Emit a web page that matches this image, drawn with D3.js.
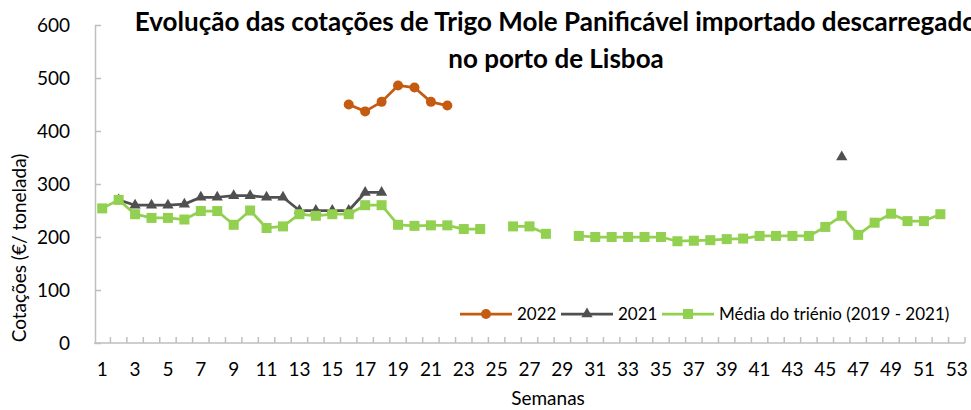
<!DOCTYPE html>
<html>
<head>
<meta charset="utf-8">
<script src="https://cdn.jsdelivr.net/npm/d3@7/dist/d3.min.js"></script>
<style>
  body { margin: 0; background: #fff; }
  svg text { font-family: Lato, "Open Sans", sans-serif; fill: #000; }
</style>
</head>
<body>
<div id="chart"></div>
<script>
// Weekly quotations, €/tonne (null = no quotation that week)
const weeks = d3.range(1, 54);

const series2022 = [
  null, null, null, null, null, null, null, null, null, null,
  null, null, null, null, null, 450, 437, 455, 486, 482,
  455, 448, null, null, null, null, null, null, null, null,
  null, null, null, null, null, null, null, null, null, null,
  null, null, null, null, null, null, null, null, null, null,
  null, null, null
];

const series2021 = [
  null, 270, 260, 260, 260, 262, 275, 275, 278, 278,
  275, 275, 250, 250, 250, 250, 284, 284, null, null,
  null, null, null, null, null, null, null, null, null, null,
  null, null, null, null, null, null, null, null, null, null,
  null, null, null, null, null, 351, null, null, null, null,
  null, null, null
];

const seriesMedia = [
  254, 270, 243, 236, 236, 233, 249, 249, 223, 250,
  217, 220, 243, 240, 243, 243, 260, 260, 223, 221,
  222, 222, 215, 215, null, 220, 220, 206, null, 202,
  200, 200, 200, 200, 200, 192, 193, 194, 196, 197,
  202, 202, 202, 202, 219, 240, 204, 227, 244, 230,
  230, 243, null
];

const yTicks = [0, 100, 200, 300, 400, 500, 600];
const xTickLabels = weeks.filter(w => w % 2 === 1);

const seriesList = [
  { label: '2022', values: series2022, color: '#C55A11', marker: 'circle' },
  { label: '2021', values: series2021, color: '#505050', marker: 'triangle' },
  { label: 'Média do triénio (2019 - 2021)', values: seriesMedia, color: '#92D050', marker: 'square' }
];

const width = 971, height = 410;
const plot = { left: 94, right: 965, top: 25, bottom: 343 };
const axisColor = '#BFBFBF';

const svg = d3.select('#chart').append('svg')
  .attr('width', width)
  .attr('height', height);

const x = d3.scaleBand()
  .domain(weeks)
  .range([plot.left, plot.right])
  .padding(0);
const cx = w => x(w) + x.bandwidth() / 2;

const y = d3.scaleLinear()
  .domain([0, 600])
  .range([plot.bottom, plot.top]);

// Y axis
const yAxis = svg.append('g')
  .attr('transform', `translate(${plot.left + 1},0)`)
  .call(d3.axisLeft(y).tickValues(yTicks).tickSize(-6).tickPadding(25).tickSizeOuter(0));
yAxis.select('.domain').attr('stroke', axisColor).attr('stroke-width', 1.5);
yAxis.selectAll('.tick line').attr('stroke', axisColor).attr('stroke-width', 1.5);
yAxis.selectAll('.tick text').style('font-size', '19px').attr('fill', '#000');

// X axis: labels on odd weeks, tick marks at category boundaries
const xAxis = svg.append('g')
  .attr('transform', `translate(0,${plot.bottom})`)
  .call(d3.axisBottom(x).tickValues(xTickLabels).tickSize(0).tickPadding(20));
xAxis.select('.domain').remove();
xAxis.selectAll('.tick text').style('font-size', '19px').attr('fill', '#000');

svg.append('line')
  .attr('x1', plot.left).attr('x2', plot.right)
  .attr('y1', plot.bottom).attr('y2', plot.bottom)
  .attr('stroke', axisColor).attr('stroke-width', 1.5);

svg.append('g').selectAll('line')
  .data(weeks.slice(1).concat(['end']))
  .join('line')
  .attr('x1', d => d === 'end' ? plot.right : x(d))
  .attr('x2', d => d === 'end' ? plot.right : x(d))
  .attr('y1', plot.bottom)
  .attr('y2', plot.bottom - 6)
  .attr('stroke', axisColor)
  .attr('stroke-width', 1.5);

// Lines
const line = d3.line()
  .defined(d => d.v != null)
  .x(d => cx(d.w))
  .y(d => y(d.v));

function drawMarker(sel, marker, color, size) {
  if (marker === 'circle') {
    sel.append('circle').attr('r', size * 0.5).attr('fill', color);
  } else if (marker === 'triangle') {
    sel.append('path')
      .attr('d', d3.symbol(d3.symbolTriangle, size * size * 0.55)())
      .attr('fill', color);
  } else {
    sel.append('rect')
      .attr('x', -size / 2).attr('y', -size / 2)
      .attr('width', size).attr('height', size)
      .attr('fill', color);
  }
}

const markerSize = { circle: 10, triangle: 10, square: 10 };

// series order as in the workbook: later series sit on top
seriesList.forEach(s => {
  const pts = weeks.map((w, i) => ({ w, v: s.values[i] }));
  svg.append('path')
    .datum(pts)
    .attr('d', line)
    .attr('fill', 'none')
    .attr('stroke', s.color)
    .attr('stroke-width', 2.75)
    .attr('stroke-linejoin', 'round');

  svg.append('g').selectAll('g')
    .data(pts.filter(d => d.v != null))
    .join('g')
    .attr('transform', d => `translate(${cx(d.w)},${y(d.v)})`)
    .each(function () { drawMarker(d3.select(this), s.marker, s.color, markerSize[s.marker]); });
});

// Title
const title = svg.append('text')
  .attr('text-anchor', 'middle')
  .style('font-size', '26px')
  .style('font-weight', 'bold');
title.append('tspan').attr('x', 556).attr('y', 31)
  .text('Evolução das cotações de Trigo Mole Panificável importado descarregado');
title.append('tspan').attr('x', 556).attr('y', 68)
  .text('no porto de Lisboa');

// Axis titles
svg.append('text')
  .attr('transform', 'translate(26,248) rotate(-90)')
  .attr('text-anchor', 'middle')
  .style('font-size', '19px')
  .text('Cotações (€/ tonelada)');

svg.append('text')
  .attr('x', 548).attr('y', 405)
  .attr('text-anchor', 'middle')
  .style('font-size', '19px')
  .text('Semanas');

// Legend
const legendItems = [
  { s: seriesList[0], x: 460, tx: 517 },
  { s: seriesList[1], x: 561, tx: 618 },
  { s: seriesList[2], x: 662, tx: 719 }
];
const legendY = 314;
legendItems.forEach(item => {
  const g = svg.append('g');
  g.append('line')
    .attr('x1', item.x).attr('x2', item.x + 52)
    .attr('y1', legendY).attr('y2', legendY)
    .attr('stroke', item.s.color).attr('stroke-width', 2.75);
  const m = g.append('g').attr('transform', `translate(${item.x + 26},${legendY})`);
  drawMarker(m, item.s.marker, item.s.color, markerSize[item.s.marker]);
  g.append('text')
    .attr('x', item.tx).attr('y', legendY)
    .attr('dy', '0.35em')
    .style('font-size', '17px')
    .text(item.s.label);
});
</script>
</body>
</html>
